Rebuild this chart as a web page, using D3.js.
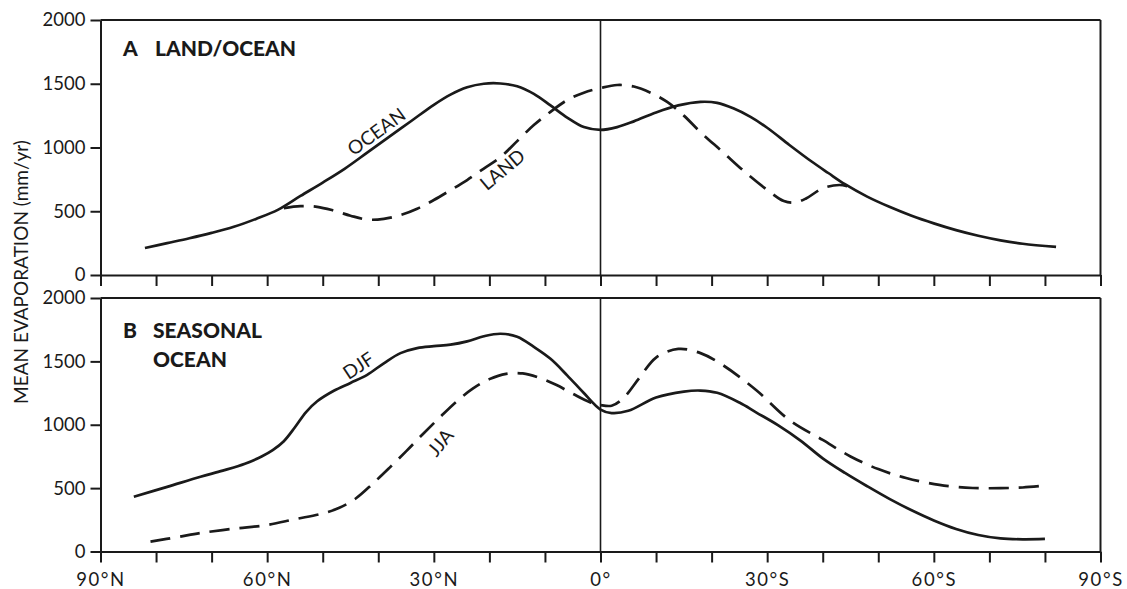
<!DOCTYPE html>
<html>
<head>
<meta charset="utf-8">
<script src="https://cdn.jsdelivr.net/npm/d3@7"></script>
<style>
  html, body { margin: 0; padding: 0; background: #fff; }
  svg { display: block; }
  text { font-family: Lato, "Open Sans", sans-serif; fill: #1a1a1a; }
</style>
</head>
<body>
<svg id="chart" width="1127" height="589"></svg>
<script>
// ---------- DATA ----------
// Panel A: mean evaporation (mm/yr) vs latitude (positive = N, negative = S)
const oceanLat = [82, 78, 74, 70, 66, 62, 58, 54, 50, 46, 42, 38, 34, 30, 27, 24, 21, 18, 15, 12, 9, 6, 3, 0, -3, -6, -10, -14, -18, -21, -24, -27, -30, -34, -38, -41, -44, -48, -52, -56, -60, -64, -68, -72, -76, -82];
const oceanVal = [212, 250, 288, 330, 378, 440, 513, 620, 725, 835, 960, 1085, 1210, 1335, 1415, 1472, 1500, 1502, 1480, 1420, 1330, 1235, 1160, 1138, 1160, 1205, 1275, 1330, 1358, 1350, 1305, 1240, 1155, 1020, 890, 800, 712, 615, 535, 465, 405, 352, 308, 272, 245, 220];

const landLat = [57, 54, 51, 48, 45, 42, 39, 36, 33, 30, 27, 24, 21, 18, 15, 12, 9, 6, 3, 0, -3, -6, -9, -12, -15, -18, -22, -26, -30, -33, -35, -37, -40, -43, -45];
const landVal = [525, 540, 535, 505, 465, 435, 440, 470, 520, 588, 665, 745, 835, 925, 1050, 1176, 1280, 1372, 1430, 1466, 1490, 1478, 1430, 1357, 1250, 1120, 965, 808, 668, 580, 568, 600, 680, 706, 690];

// Panel B: seasonal ocean evaporation
const djfLat = [84, 78, 72, 68, 64, 61, 59, 57, 55, 53, 51, 48, 45, 42, 39, 36, 33, 30, 27, 24, 21, 18, 15, 12, 9, 6, 3, 0, -2, -5, -10, -15, -18, -21, -25, -28, -32, -36, -40, -44, -48, -52, -56, -60, -64, -68, -72, -76, -80];
const djfVal = [432, 510, 590, 638, 692, 750, 800, 870, 980, 1100, 1185, 1268, 1330, 1394, 1485, 1565, 1605, 1620, 1632, 1658, 1698, 1718, 1694, 1614, 1520, 1390, 1250, 1120, 1092, 1110, 1215, 1262, 1270, 1252, 1175, 1098, 995, 875, 735, 620, 515, 415, 325, 245, 178, 130, 103, 96, 99];

const jjaLat = [81, 76, 72, 66, 60, 55, 50, 47, 44, 41, 38, 35, 32, 29, 26, 23, 20, 17, 14, 11, 8, 5, 2, 0, -2, -4, -7, -10, -14, -18, -22, -28, -34, -40, -45, -50, -55, -61, -67, -72, -76, -80];
const jjaVal = [78, 115, 146, 180, 209, 255, 300, 345, 420, 535, 660, 790, 925, 1055, 1180, 1285, 1360, 1402, 1405, 1370, 1315, 1245, 1180, 1156, 1150, 1205, 1370, 1530, 1598, 1565, 1471, 1274, 1037, 880, 750, 650, 580, 525, 501, 500, 505, 520];

const yTicks = [0, 500, 1000, 1500, 2000];
const xTicks = [90, 80, 70, 60, 50, 40, 30, 20, 10, 0, -10, -20, -30, -40, -50, -60, -70, -80, -90];
const xLabelVals = [90, 60, 30, 0, -30, -60, -90];
const xLabelText = ["90°N", "60°N", "30°N", "0°", "30°S", "60°S", "90°S"];

// ---------- CHART ----------
const svg = d3.select("#chart");
const ink = "#1a1a1a";

const x = d3.scaleLinear().domain([90, -90]).range([100.5, 1100.5]);
const panels = [
  { y: d3.scaleLinear().domain([0, 2000]).range([275, 20]), labels: false },
  { y: d3.scaleLinear().domain([0, 2000]).range([551.5, 298]), labels: true }
];

function series(lat, val) { return lat.map((d, i) => [d, val[i]]); }

panels.forEach(p => {
  const g = svg.append("g");
  const ax = g.append("g").attr("transform", `translate(${x(90)},0)`)
    .call(d3.axisLeft(p.y).tickValues(yTicks).tickSize(10).tickSizeOuter(0).tickPadding(5).tickFormat(d3.format("d")));
  const bx = g.append("g").attr("transform", `translate(0,${p.y(0)})`)
    .call(d3.axisBottom(x).tickValues(xTicks).tickSize(11).tickSizeOuter(0).tickPadding(10)
      .tickFormat(d => {
        if (!p.labels) return "";
        const i = xLabelVals.indexOf(d);
        return i >= 0 ? xLabelText[i] : "";
      }));
  [ax, bx].forEach(a => {
    a.select(".domain").attr("stroke", ink).attr("stroke-width", 2);
    a.selectAll(".tick line").attr("stroke", ink).attr("stroke-width", 2);
    a.selectAll(".tick text").attr("fill", ink).style("font-size", "18.5px").style("font-family", "Lato, sans-serif");
  });
  bx.selectAll(".tick text").style("letter-spacing", "1.6px");
  g.append("line").attr("x1", x(90)).attr("x2", x(-90)).attr("y1", p.y(2000)).attr("y2", p.y(2000))
    .attr("stroke", ink).attr("stroke-width", 2);
  g.append("line").attr("x1", x(-90)).attr("x2", x(-90)).attr("y1", p.y(2000)).attr("y2", p.y(0))
    .attr("stroke", ink).attr("stroke-width", 2);
  g.append("line").attr("x1", x(0)).attr("x2", x(0)).attr("y1", p.y(2000)).attr("y2", p.y(0))
    .attr("stroke", ink).attr("stroke-width", 1.6);
  p.g = g;
});

function drawLine(p, data, dashed) {
  const line = d3.line().x(d => x(d[0])).y(d => p.y(d[1])).curve(d3.curveCatmullRom.alpha(0.5));
  p.g.append("path").datum(data).attr("d", line)
    .attr("fill", "none").attr("stroke", ink).attr("stroke-width", 2.7)
    .attr("stroke-dasharray", dashed ? "20,10" : null);
}

drawLine(panels[0], series(oceanLat, oceanVal), false);
drawLine(panels[0], series(landLat, landVal), true);
drawLine(panels[1], series(djfLat, djfVal), false);
drawLine(panels[1], series(jjaLat, jjaVal), true);

function curveLabel(txt, cx, cy, ang) {
  svg.append("text").attr("transform", `translate(${cx},${cy}) rotate(${ang})`)
    .attr("text-anchor", "middle").attr("dominant-baseline", "central")
    .style("font-size", "19px").text(txt);
}
curveLabel("OCEAN", 376, 131, -36);
curveLabel("LAND", 502, 169, -40);
curveLabel("DJF", 358, 365, -33);
curveLabel("JJA", 440, 442, -50);

function title(letter, words, x0, x1, y0) {
  const t = svg.append("text").style("font-size", "21px").style("font-weight", 900);
  if (letter) t.append("tspan").attr("x", x0).attr("y", y0).text(letter);
  t.append("tspan").attr("x", x1).attr("y", y0).text(words);
}
title("A", "LAND/OCEAN", 123, 155, 56);
title("B", "SEASONAL", 123, 153, 338);
title(null, "OCEAN", 123, 153, 367);

svg.append("text").attr("transform", "translate(20,272) rotate(-90)")
  .attr("text-anchor", "middle").attr("dominant-baseline", "central")
  .style("font-size", "19px").text("MEAN EVAPORATION (mm/yr)");
</script>
</body>
</html>
